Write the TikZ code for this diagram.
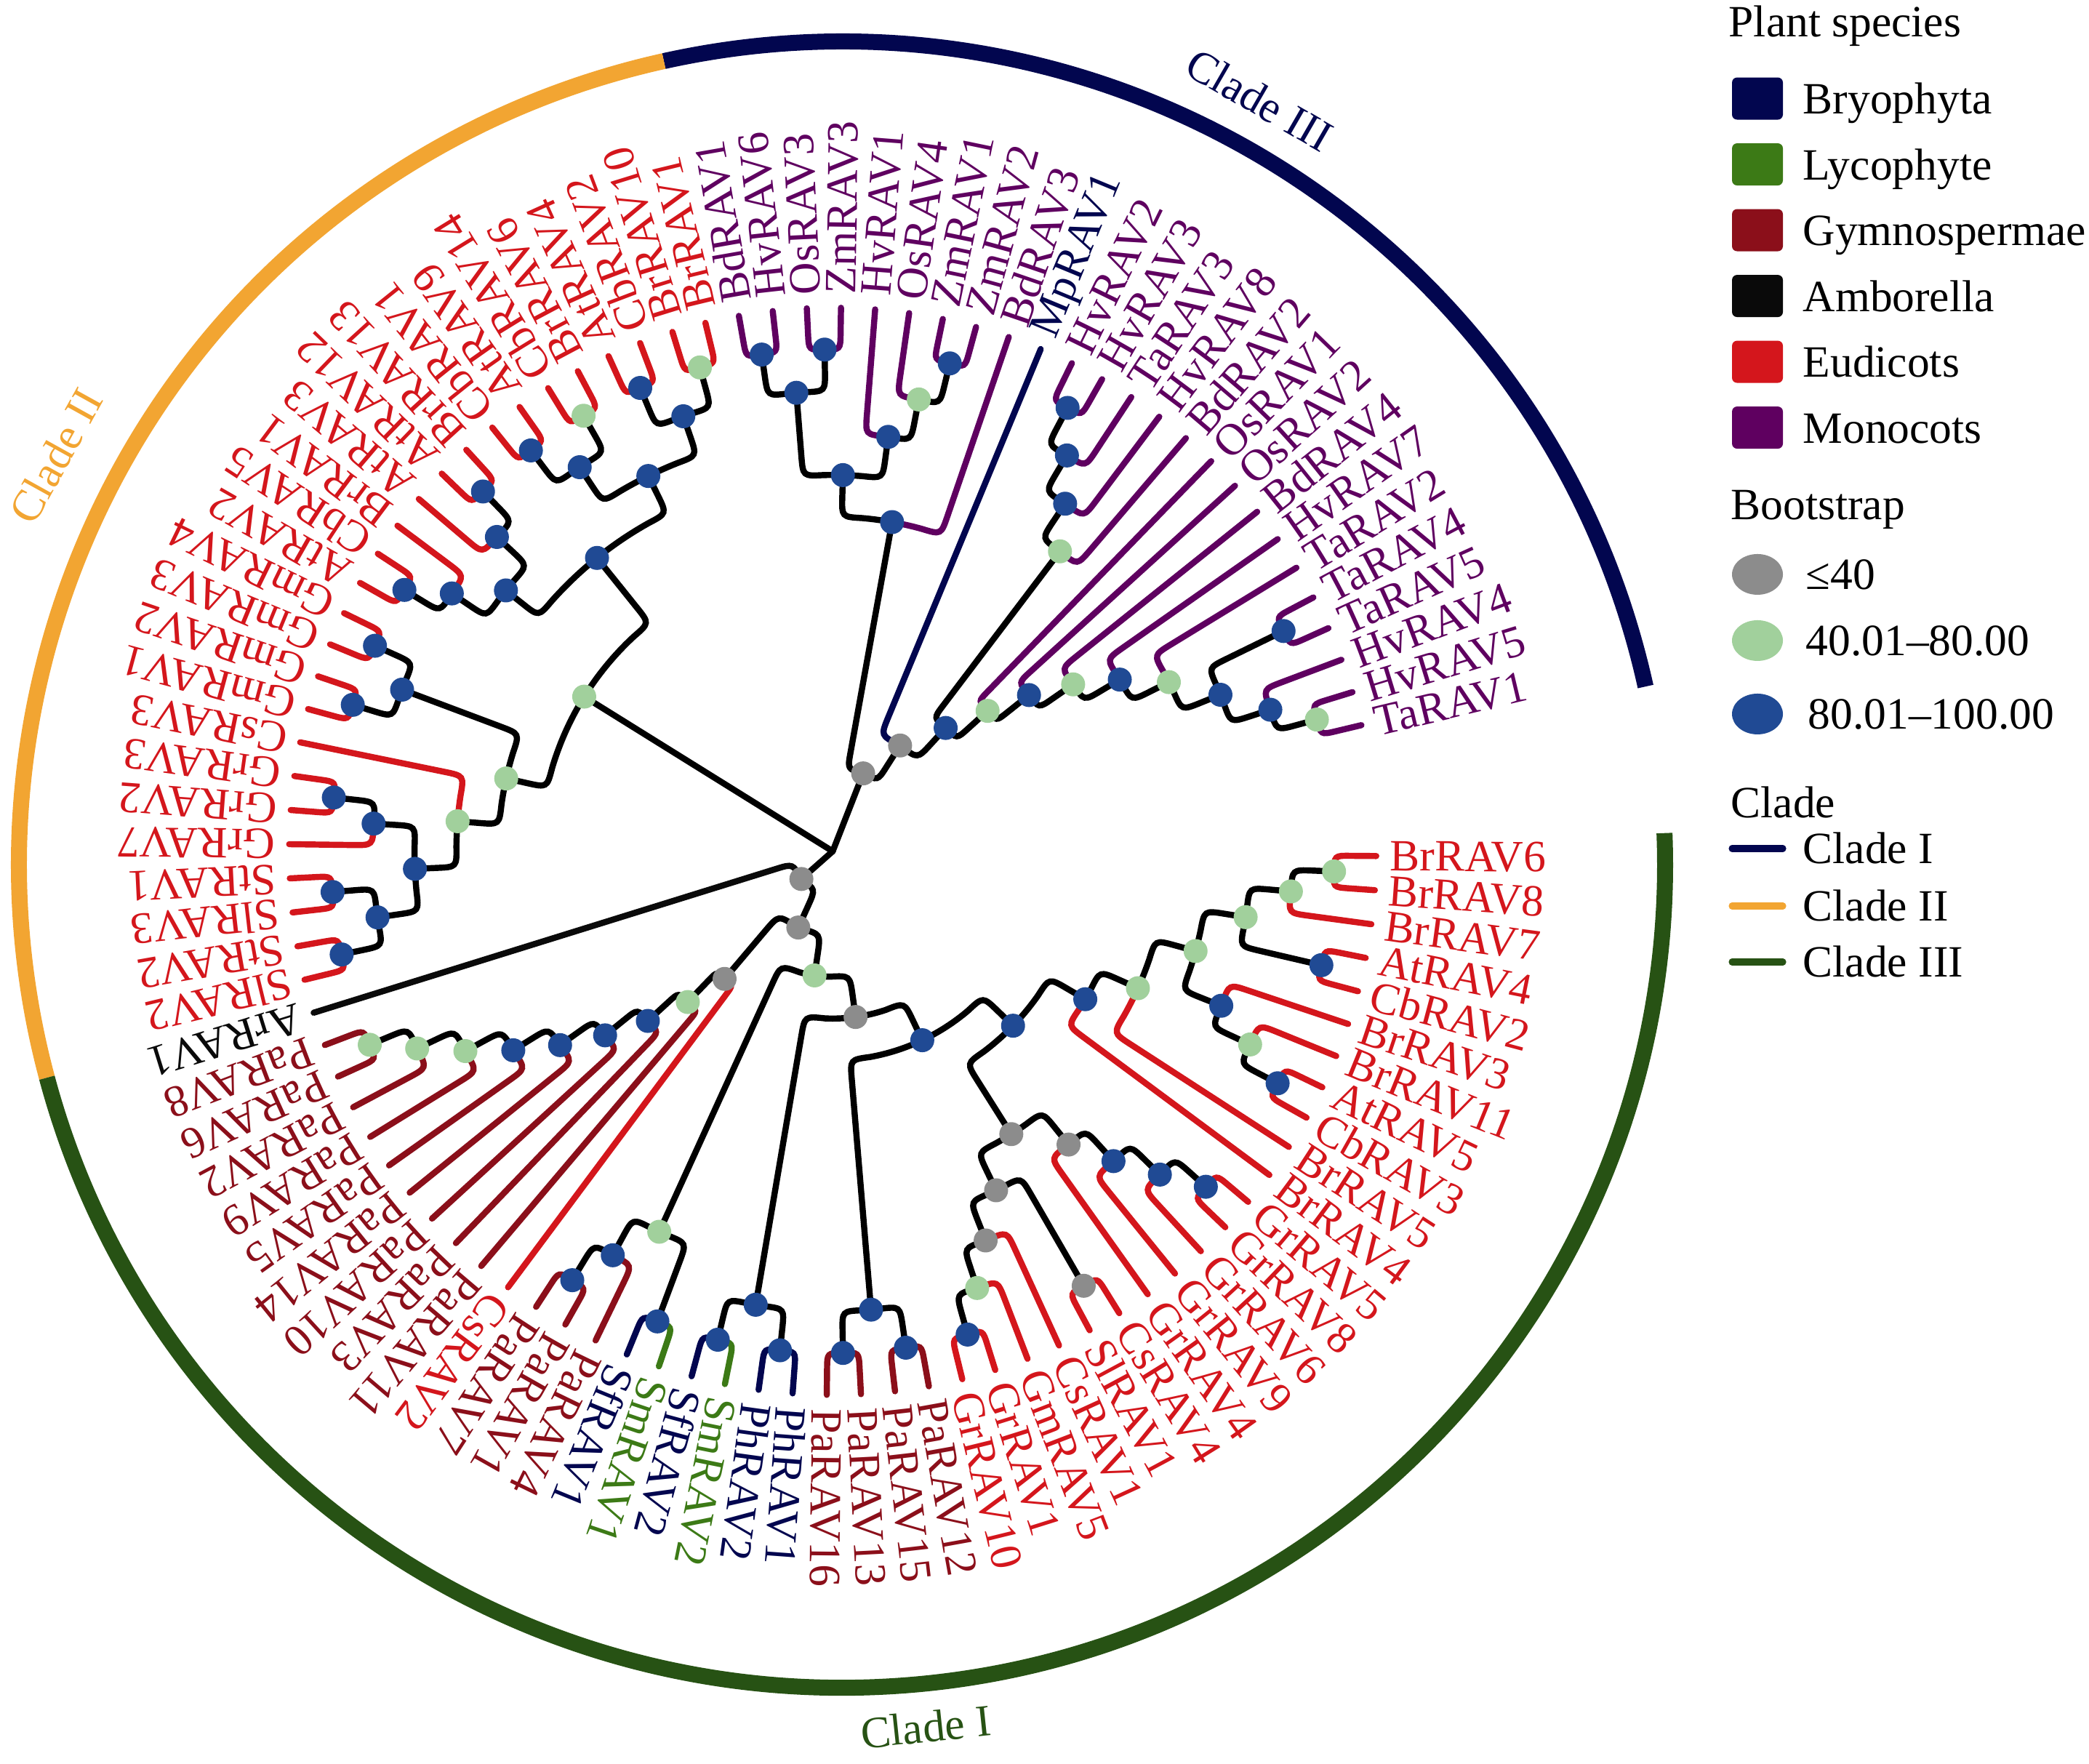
\documentclass[tikz,border=0pt]{standalone}
\usepackage{fontspec}
\setmainfont{Liberation Serif}
\usetikzlibrary{shapes.geometric}
\pgfdeclarelayer{front}
\pgfsetlayers{main,front}

\definecolor{eud}{HTML}{D4161C}
\definecolor{gym}{HTML}{8B0F1A}
\definecolor{mon}{HTML}{5F0060}
\definecolor{bry}{HTML}{02064F}
\definecolor{lyc}{HTML}{3C7A16}
\definecolor{amb}{HTML}{0A0A0A}
\definecolor{bsgray}{HTML}{8C8C8C}
\definecolor{bsgreen}{HTML}{A1D09C}
\definecolor{bsblue}{HTML}{204A94}
\definecolor{clnavy}{HTML}{02064F}
\definecolor{clorange}{HTML}{F2A532}
\definecolor{clgreen}{HTML}{275214}

% leaf index -> angle, node height -> radius
\pgfmathdeclarefunction{leafang}{1}{\pgfmathparse{-0.5-3.605*#1}}
\pgfmathdeclarefunction{noderad}{1}{\pgfmathparse{7.476*(1-#1/13)}}

\newcommand\setv[2]{\expandafter\xdef\csname #1\endcsname{#2}}
\newcommand\getv[1]{\csname #1\endcsname}

\newcommand\tipnode[4]{% name, index, colour, text
  \setv{a@#1}{#2}\setv{h@#1}{0}\setv{c@#1}{#3}%
  \pgfmathsetmacro\lbang{leafang(#2)}%
  \node[lab,text=#3,rotate=\lbang] (#1) at (\lbang:7.66) {#4};}

\newcommand\treebranch[2]{% child, parent
  \pgfmathsetmacro\bta{leafang(\getv{a@#1})}%
  \pgfmathsetmacro\bra{noderad(\getv{h@#1})}%
  \pgfmathsetmacro\btb{leafang(\getv{a@#2})}%
  \pgfmathsetmacro\brb{noderad(\getv{h@#2})}%
  \pgfmathsetmacro\brr{min(0.28,abs(\btb-(\bta))*pi/180*\brb,\bra-\brb)}%
  \pgfmathsetmacro\brc{\brb+\brr}%
  \pgfmathsetmacro\bte{\bta+(\btb>\bta?1:-1)*\brr/\brb*180/pi}%
  \edef\bcol{\getv{c@#1}}%
  \draw[branch,draw=\bcol] (\bta:\bra) -- (\bta:\brc) .. controls (\bta:\brb) .. (\bte:\brb)
    arc[start angle=\bte,end angle=\btb,radius=\brb];}

\newcommand\joinnode[4]{% name, child, child, bootstrap style
  \pgfmathsetmacro\ja{(\getv{a@#2}+\getv{a@#3})/2}%
  \pgfmathsetmacro\jh{max(\getv{h@#2},\getv{h@#3})+1}%
  \setv{a@#1}{\ja}\setv{h@#1}{\jh}\setv{c@#1}{black}%
  \treebranch{#2}{#1}\treebranch{#3}{#1}%
  \pgfmathsetmacro\jt{leafang(\ja)}\pgfmathsetmacro\jr{noderad(\jh)}%
  \begin{pgfonlayer}{front}\node[#4] (#1) at (\jt:\jr) {};\end{pgfonlayer}}

\newcommand\rootbranch[1]{%
  \pgfmathsetmacro\bta{leafang(\getv{a@#1})}%
  \pgfmathsetmacro\bra{noderad(\getv{h@#1})}%
  \draw[branch] (\bta:\bra) -- (root);}

\begin{document}
\begin{tikzpicture}[x=1cm,y=1cm,
  every node/.style={font=\fontsize{17.5}{21}\selectfont,inner sep=0pt},
  lab/.style={anchor=west},
  branch/.style={line width=2.4pt,line cap=round},
  bsdot/.style={circle,minimum size=0.33cm},
  bslow/.style={bsdot,fill=bsgray},
  bsmid/.style={bsdot,fill=bsgreen},
  bshigh/.style={bsdot,fill=bsblue},
  ring/.style={line width=0.22cm},
  swatch/.style={rounded corners=0.07cm,minimum width=0.70cm,minimum height=0.58cm},
  keyoval/.style={ellipse,minimum width=0.70cm,minimum height=0.56cm},
  keytext/.style={anchor=base west}]
\useasboundingbox (0,0) rectangle (28.73,24.26);

\begin{scope}[shift={(11.452,12.552)}]
\coordinate (root) at (0,0);
\coordinate (ringc) at (0.128,-0.184);

% leaves, in order round the circle
\foreach \txt/\col [count=\i from 0] in {
  BrRAV6/eud,BrRAV8/eud,BrRAV7/eud,AtRAV4/eud,CbRAV2/eud,BrRAV3/eud,BrRAV11/eud,
  AtRAV5/eud,CbRAV3/eud,BrRAV5/eud,BrRAV4/eud,GrRAV5/eud,GrRAV8/eud,GrRAV6/eud,
  GrRAV9/eud,GrRAV4/eud,CsRAV4/eud,SlRAV1/eud,CsRAV1/eud,GmRAV5/eud,GrRAV1/eud,
  GrRAV10/eud,PaRAV12/gym,PaRAV15/gym,PaRAV13/gym,PaRAV16/gym,PhRAV1/bry,PhRAV2/bry,
  SmRAV2/lyc,SfRAV2/bry,SmRAV1/lyc,SfRAV1/bry,PaRAV4/gym,PaRAV1/gym,PaRAV7/gym,
  CsRAV2/eud,PaRAV11/gym,PaRAV3/gym,PaRAV10/gym,PaRAV14/gym,PaRAV5/gym,PaRAV9/gym,
  PaRAV2/gym,PaRAV6/gym,PaRAV8/gym,ArRAV1/amb,
  SlRAV2/eud,StRAV2/eud,SlRAV3/eud,StRAV1/eud,GrRAV7/eud,GrRAV2/eud,GrRAV3/eud,
  CsRAV3/eud,GmRAV1/eud,GmRAV2/eud,GmRAV3/eud,GmRAV4/eud,AtRAV2/eud,CbRAV5/eud,
  BrRAV1/eud,AtRAV3/eud,AtRAV12/eud,BrRAV13/eud,CbRAV1/eud,AtRAV9/eud,CbRAV14/eud,
  BrRAV6/eud,AtRAV4/eud,CbRAV2/eud,BrRAV10/eud,BrRAV1/eud,
  BdRAV1/mon,HvRAV6/mon,OsRAV3/mon,ZmRAV3/mon,HvRAV1/mon,OsRAV4/mon,ZmRAV1/mon,
  ZmRAV2/mon,BdRAV3/mon,MpRAV1/bry,HvRAV2/mon,HvRAV3/mon,TaRAV3/mon,HvRAV8/mon,
  BdRAV2/mon,OsRAV1/mon,OsRAV2/mon,BdRAV4/mon,HvRAV7/mon,TaRAV2/mon,TaRAV4/mon,
  TaRAV5/mon,HvRAV4/mon,HvRAV5/mon,TaRAV1/mon}
  {\tipnode{l\i}{\i}{\col}{\txt}}

% clade I
\joinnode{a1}{l0}{l1}{bsmid}
\joinnode{a2}{a1}{l2}{bsmid}
\joinnode{a3}{l3}{l4}{bshigh}
\joinnode{a4}{a2}{a3}{bsmid}
\joinnode{a5}{l7}{l8}{bshigh}
\joinnode{a6}{l6}{a5}{bsmid}
\joinnode{a7}{l5}{a6}{bshigh}
\joinnode{a8}{a4}{a7}{bsmid}
\joinnode{a9}{a8}{l9}{bsmid}
\joinnode{a10}{a9}{l10}{bshigh}
\joinnode{b1}{l11}{l12}{bshigh}
\joinnode{b2}{b1}{l13}{bshigh}
\joinnode{b3}{b2}{l14}{bshigh}
\joinnode{b4}{b3}{l15}{bslow}
\joinnode{g4}{l16}{l17}{bslow}
\joinnode{g5}{l20}{l21}{bshigh}
\joinnode{g6}{l19}{g5}{bsmid}
\joinnode{g7}{l18}{g6}{bslow}
\joinnode{g3}{g7}{g4}{bslow}
\joinnode{g1}{b4}{g3}{bslow}
\joinnode{g0}{a10}{g1}{bshigh}
\joinnode{c1}{l22}{l23}{bshigh}
\joinnode{c2}{l24}{l25}{bshigh}
\joinnode{c3}{c1}{c2}{bshigh}
\joinnode{d1}{g0}{c3}{bshigh}
\joinnode{e1}{l26}{l27}{bshigh}
\joinnode{e2}{l28}{l29}{bshigh}
\joinnode{e3}{e1}{e2}{bshigh}
\joinnode{d2}{d1}{e3}{bslow}
\joinnode{f1}{l33}{l34}{bshigh}
\joinnode{f2}{l32}{f1}{bshigh}
\joinnode{f3}{l30}{l31}{bshigh}
\joinnode{f4}{f3}{f2}{bsmid}
\joinnode{d3}{d2}{f4}{bsmid}
\joinnode{p1}{l43}{l44}{bsmid}
\joinnode{p2}{l42}{p1}{bsmid}
\joinnode{p3}{l41}{p2}{bsmid}
\joinnode{p4}{l40}{p3}{bshigh}
\joinnode{p5}{l39}{p4}{bshigh}
\joinnode{p6}{l38}{p5}{bshigh}
\joinnode{p7}{l37}{p6}{bshigh}
\joinnode{p8}{l36}{p7}{bsmid}
\joinnode{p9}{l35}{p8}{bslow}
\joinnode{d4}{d3}{p9}{bslow}
\joinnode{d5}{d4}{l45}{bslow}

% clade II
\joinnode{q1}{l46}{l47}{bshigh}
\joinnode{q2}{l48}{l49}{bshigh}
\joinnode{q3}{q1}{q2}{bshigh}
\joinnode{q4}{l51}{l52}{bshigh}
\joinnode{q5}{l50}{q4}{bshigh}
\joinnode{q6}{q3}{q5}{bshigh}
\joinnode{q7}{l53}{q6}{bsmid}
\joinnode{q8}{l54}{l55}{bshigh}
\joinnode{q9}{l56}{l57}{bshigh}
\joinnode{q10}{q8}{q9}{bshigh}
\joinnode{q11}{q7}{q10}{bsmid}
\joinnode{x1}{l58}{l59}{bshigh}
\joinnode{x2}{x1}{l60}{bshigh}
\joinnode{x5}{l62}{l63}{bshigh}
\joinnode{x4}{l61}{x5}{bshigh}
\joinnode{x3}{x2}{x4}{bshigh}
\joinnode{u5}{l64}{l65}{bshigh}
\joinnode{u4}{l66}{l67}{bsmid}
\joinnode{u6}{u5}{u4}{bshigh}
\joinnode{u2}{l68}{l69}{bshigh}
\joinnode{u1}{l70}{l71}{bsmid}
\joinnode{u3}{u2}{u1}{bshigh}
\joinnode{u7}{u6}{u3}{bshigh}
\joinnode{u8}{x3}{u7}{bshigh}
\joinnode{r2}{q11}{u8}{bsmid}

% clade III
\joinnode{m1}{l72}{l73}{bshigh}
\joinnode{m2}{l74}{l75}{bshigh}
\joinnode{m3}{m1}{m2}{bshigh}
\joinnode{m4}{l78}{l79}{bshigh}
\joinnode{m5}{l77}{m4}{bsmid}
\joinnode{m6}{l76}{m5}{bshigh}
\joinnode{m7}{m3}{m6}{bshigh}
\joinnode{m8}{m7}{l80}{bshigh}
\joinnode{h1}{l82}{l83}{bshigh}
\joinnode{h2}{h1}{l84}{bshigh}
\joinnode{h3}{h2}{l85}{bshigh}
\joinnode{h4}{h3}{l86}{bsmid}
\joinnode{k0}{l92}{l93}{bshigh}
\joinnode{k1}{l95}{l96}{bsmid}
\joinnode{k2}{l94}{k1}{bshigh}
\joinnode{k3}{k0}{k2}{bshigh}
\joinnode{k4}{l91}{k3}{bsmid}
\joinnode{k5}{l90}{k4}{bshigh}
\joinnode{k6}{l89}{k5}{bsmid}
\joinnode{k7}{l88}{k6}{bshigh}
\joinnode{k8}{l87}{k7}{bsmid}
\joinnode{k9}{h4}{k8}{bshigh}
\joinnode{k10}{l81}{k9}{bslow}
\joinnode{k11}{m8}{k10}{bslow}

\rootbranch{d5}
\rootbranch{r2}
\rootbranch{k11}

% clade rings
\draw[ring,clnavy] (ringc) ++(102.5:11.32) arc[start angle=102.5,end angle=12.5,radius=11.32];
\draw[ring,clorange] (ringc) ++(195:11.32) arc[start angle=195,end angle=102.5,radius=11.32];
\draw[ring,clgreen] (ringc) ++(2.2:11.32) arc[start angle=2.2,end angle=-165,radius=11.32];
\end{scope}

\node[text=clnavy,rotate=-30] (c3lab) at (17.32,22.89) {Clade III};
\node[text=clorange,rotate=61] (c2lab) at (0.77,17.99) {Clade II};
\node[text=clgreen,rotate=6] (c1lab) at (12.73,0.51) {Clade I};

% legend
\node[keytext] (sptitle) at (23.77,23.75) {Plant species};
\foreach \col/\txt [count=\k from 0] in {bry/Bryophyta,lyc/Lycophyte,gym/Gymnospermae,
    amb/Amborella,eud/Eudicots,mon/Monocots}{
  \pgfmathsetmacro\yk{22.904-0.905*\k}
  \node[swatch,fill=\col] (sw\k) at (24.17,\yk) {};
  \node[keytext] (swt\k) at (24.79,\yk-0.21) {\txt};
}
\node[keytext] (bstitle) at (23.80,17.11) {Bootstrap};
\node[keyoval,fill=bsgray] (bk1) at (24.17,16.36) {};
\node[keyoval,fill=bsgreen] (bk2) at (24.17,15.45) {};
\node[keyoval,fill=bsblue] (bk3) at (24.17,14.44) {};
\node[keytext] (bkt1) at (24.83,16.15) {≤40};
\node[keytext] (bkt2) at (24.83,15.24) {40.01–80.00};
\node[keytext] (bkt3) at (24.86,14.23) {80.01–100.00};
\node[keytext] (cltitle) at (23.80,13.01) {Clade};
\coordinate (cl1a) at (23.82,12.59); \coordinate (cl1b) at (24.52,12.59);
\coordinate (cl2a) at (23.82,11.80); \coordinate (cl2b) at (24.52,11.80);
\coordinate (cl3a) at (23.82,11.03); \coordinate (cl3b) at (24.52,11.03);
\draw[clnavy,line width=2.6pt,line cap=round] (cl1a) -- (cl1b);
\draw[clorange,line width=2.6pt,line cap=round] (cl2a) -- (cl2b);
\draw[clgreen,line width=2.6pt,line cap=round] (cl3a) -- (cl3b);
\node[keytext] (clt1) at (24.79,12.38) {Clade I};
\node[keytext] (clt2) at (24.79,11.59) {Clade II};
\node[keytext] (clt3) at (24.79,10.82) {Clade III};
\end{tikzpicture}
\end{document}
